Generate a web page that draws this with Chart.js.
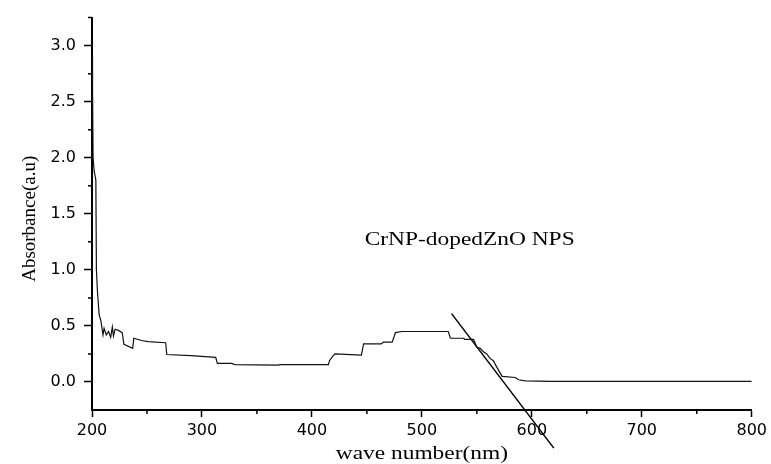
<!DOCTYPE html>
<html>
<head>
<meta charset="utf-8">
<script src="https://cdn.jsdelivr.net/npm/chart.js@4.4.0/dist/chart.umd.min.js"></script>
<style>
html, body { margin: 0; padding: 0; background: #fff; }
#grafico { display: block; }
</style>
</head>
<body>
<canvas id="grafico" width="771" height="464"></canvas>
<script>
// spectrum (nm, absorbance)
var longitudOnda = [200, 200.5, 201, 202, 203.5, 204, 205, 206.5, 208, 210, 211, 213, 215, 217, 218.5, 219.5, 221, 224, 227.5, 229,
    237, 238, 245, 251, 267, 268, 290, 312.5, 314, 327, 330, 369, 371, 415, 416, 419, 421, 445, 447, 463,
    465, 473, 476, 482, 524, 526, 538, 539, 547, 550, 553, 556, 559, 562, 565, 568, 573, 585, 588, 594, 618, 800];
var absorbancia = [2.9, 2.6, 2.0, 1.88, 1.8, 1.0, 0.8, 0.6, 0.55, 0.42, 0.48, 0.42, 0.45, 0.40, 0.49, 0.41, 0.47, 0.46, 0.44, 0.335,
    0.30, 0.39, 0.37, 0.36, 0.35, 0.245, 0.235, 0.22, 0.165, 0.165, 0.155, 0.15, 0.155, 0.155, 0.19, 0.23, 0.25, 0.24, 0.34, 0.34,
    0.355, 0.355, 0.44, 0.45, 0.45, 0.39, 0.39, 0.38, 0.38, 0.31, 0.30, 0.27, 0.25, 0.21, 0.19, 0.135, 0.05, 0.04, 0.02, 0.01, 0.005, 0.005];

// tangent line used for the band edge
var tangenteX = [527, 620];
var tangenteY = [0.61, -0.59];

var ticksX = [200, 300, 400, 500, 600, 700, 800];
var ticksXMenor = [250, 350, 450, 550, 650, 750];
var ticksY = [0, 0.5, 1.0, 1.5, 2.0, 2.5, 3.0];
var ticksYMenor = [0.25, 0.75, 1.25, 1.75, 2.25, 2.75, 3.25];

var etiqueta = 'CrNP-dopedZnO NPS';
var etiquetaEn = [448, 1.22];
var tituloX = 'wave number(nm)';
var tituloY = 'Absorbance(a.u)';

// minor ticks, label and axis titles
var extras = {
    id: 'extras',
    afterDraw: function (chart) {
        var ctx = chart.ctx;
        var sx = chart.scales.x;
        var sy = chart.scales.y;
        var area = chart.chartArea;
        ctx.save();
        ctx.strokeStyle = '#000';
        ctx.lineWidth = 1.5;
        ctx.beginPath();
        ticksXMenor.forEach(function (v) {
            var px = sx.getPixelForValue(v);
            ctx.moveTo(px, area.bottom);
            ctx.lineTo(px, area.bottom + 4);
        });
        ticksYMenor.forEach(function (v) {
            var py = sy.getPixelForValue(v);
            ctx.moveTo(area.left, py);
            ctx.lineTo(area.left - 4, py);
        });
        ctx.stroke();

        ctx.fillStyle = '#000';
        ctx.font = '18px "Liberation Serif"';
        ctx.textBaseline = 'alphabetic';

        ctx.save();
        ctx.translate(sx.getPixelForValue(etiquetaEn[0]), sy.getPixelForValue(etiquetaEn[1]));
        ctx.scale(1.3, 1);
        ctx.textAlign = 'left';
        ctx.fillText(etiqueta, 0, 0);
        ctx.restore();

        ctx.save();
        ctx.translate((area.left + area.right) / 2, 459);
        ctx.scale(1.3, 1);
        ctx.textAlign = 'center';
        ctx.fillText(tituloX, 0, 0);
        ctx.restore();

        ctx.save();
        ctx.translate(35, (area.top + area.bottom) / 2 + 5);
        ctx.rotate(-Math.PI / 2);
        ctx.font = '19px "Liberation Serif"';
        ctx.textAlign = 'center';
        ctx.fillText(tituloY, 0, 0);
        ctx.restore();

        ctx.restore();
    }
};

function puntos(xs, ys) {
    return xs.map(function (v, i) { return { x: v, y: ys[i] }; });
}

new Chart(document.getElementById('grafico'), {
    type: 'line',
    data: {
        datasets: [{
            data: puntos(longitudOnda, absorbancia),
            borderColor: '#111',
            borderWidth: 1.2,
            pointRadius: 0,
            tension: 0,
            fill: false
        }, {
            data: puntos(tangenteX, tangenteY),
            borderColor: '#000',
            borderWidth: 1.5,
            pointRadius: 0,
            fill: false,
            clip: false
        }]
    },
    options: {
        responsive: false,
        animation: false,
        devicePixelRatio: 1,
        layout: { padding: { top: 14, right: 19, left: 0, bottom: 0 } },
        plugins: { legend: { display: false }, tooltip: { enabled: false } },
        scales: {
            x: {
                type: 'linear',
                min: 200,
                max: 800,
                afterBuildTicks: function (s) { s.ticks = ticksX.map(function (v) { return { value: v }; }); },
                afterFit: function (s) { s.height = 54; },
                ticks: {
                    color: '#000',
                    font: { family: 'DejaVu Sans', size: 16 },
                    padding: 4,
                    maxRotation: 0,
                    autoSkip: false,
                    callback: function (v) { return v; }
                },
                grid: { drawOnChartArea: false, drawTicks: true, tickLength: 7, tickWidth: 1.5, tickColor: '#000' },
                border: { display: true, color: '#000', width: 2 }
            },
            y: {
                type: 'linear',
                min: -0.25,
                max: 3.25,
                afterBuildTicks: function (s) { s.ticks = ticksY.map(function (v) { return { value: v }; }); },
                afterFit: function (s) { s.width = 92; },
                ticks: {
                    color: '#000',
                    font: { family: 'DejaVu Sans', size: 16 },
                    padding: 8,
                    callback: function (v) { return v.toFixed(1); }
                },
                grid: { drawOnChartArea: false, drawTicks: true, tickLength: 8, tickWidth: 1.5, tickColor: '#000' },
                border: { display: true, color: '#000', width: 2 }
            }
        }
    },
    plugins: [extras]
});
</script>
</body>
</html>
